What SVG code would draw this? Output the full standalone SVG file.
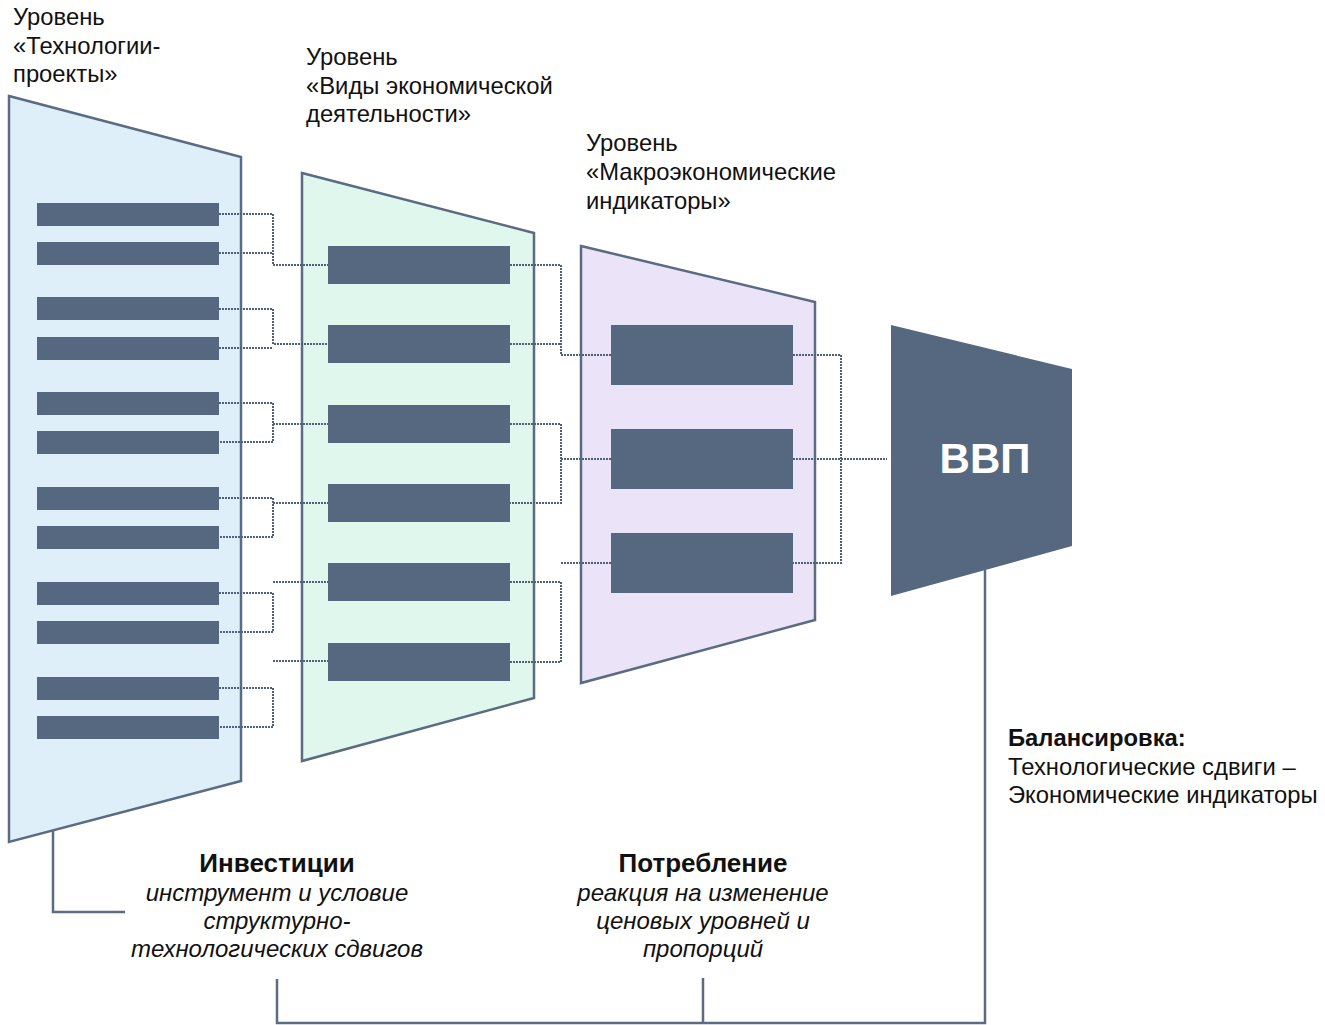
<svg xmlns="http://www.w3.org/2000/svg" width="1325" height="1025" viewBox="0 0 1325 1025">
<style>
.trap{stroke:#5b6b82;stroke-width:2.5;stroke-linejoin:miter}
.bar{fill:#56687f}
.dot{fill:none;stroke:#4f6178;stroke-width:2;stroke-dasharray:2 1}
.solid{fill:none;stroke:#5b6b82;stroke-width:2.5}
.lbl{font-family:"Liberation Sans",Arial,sans-serif;font-size:23.8px;fill:#111}
.hd{font-family:"Liberation Sans",Arial,sans-serif;font-size:26px;font-weight:bold;fill:#111}
.it{font-family:"Liberation Sans",Arial,sans-serif;font-size:24px;font-style:italic;fill:#111}
</style>
<rect width="1325" height="1025" fill="#fff"/>
<g id="level1">
<polygon class="trap" points="9,96 241,157 241,781 9,842" fill="#dfeffa"/>
<rect class="bar" x="37" y="203" width="182" height="23"/>
<rect class="bar" x="37" y="242" width="182" height="23"/>
<rect class="bar" x="37" y="297" width="182" height="23"/>
<rect class="bar" x="37" y="337" width="182" height="23"/>
<rect class="bar" x="37" y="392" width="182" height="23"/>
<rect class="bar" x="37" y="431" width="182" height="23"/>
<rect class="bar" x="37" y="487" width="182" height="23"/>
<rect class="bar" x="37" y="526" width="182" height="23"/>
<rect class="bar" x="37" y="582" width="182" height="23"/>
<rect class="bar" x="37" y="621" width="182" height="23"/>
<rect class="bar" x="37" y="677" width="182" height="23"/>
<rect class="bar" x="37" y="716" width="182" height="23"/>
<text class="lbl" x="13" y="25">Уровень</text>
<text class="lbl" x="13" y="54">«Технологии-</text>
<text class="lbl" x="13" y="82">проекты»</text>
</g>
<g id="level2">
<polygon class="trap" points="302,173 534,233 534,698 302,761" fill="#e0f7ee"/>
<rect class="bar" x="328" y="246" width="182" height="38"/>
<rect class="bar" x="328" y="325" width="182" height="38"/>
<rect class="bar" x="328" y="405" width="182" height="38"/>
<rect class="bar" x="328" y="484" width="182" height="38"/>
<rect class="bar" x="328" y="563" width="182" height="38"/>
<rect class="bar" x="328" y="643" width="182" height="38"/>
<text class="lbl" x="306" y="65">Уровень</text>
<text class="lbl" x="306" y="94">«Виды экономической</text>
<text class="lbl" x="306" y="122">деятельности»</text>
</g>
<g id="level3">
<polygon class="trap" points="581,246 815,302 815,620 581,683" fill="#ebe3f7"/>
<rect class="bar" x="611" y="325" width="182" height="60"/>
<rect class="bar" x="611" y="429" width="182" height="60"/>
<rect class="bar" x="611" y="533" width="182" height="60"/>
<text class="lbl" x="586" y="151">Уровень</text>
<text class="lbl" x="586" y="180">«Макроэкономические</text>
<text class="lbl" x="586" y="209">индикаторы»</text>
</g>
<g id="gdp">
<polygon points="891,325 1072,369 1072,546 891,596" fill="#56687f"/>
<text x="985" y="473" text-anchor="middle" font-family="Liberation Sans,Arial,sans-serif" font-size="42" font-weight="bold" fill="#fff">ВВП</text>
</g>
<g id="connectors">
<path class="dot" d="M219,214H273V265H328M219,253H273"/>
<path class="dot" d="M219,309H273V344H328M219,348H273"/>
<path class="dot" d="M219,403H273V442H219M273,424H328"/>
<path class="dot" d="M219,498H273V537H219M273,503H328"/>
<path class="dot" d="M219,593H273V632H219M273,582H328"/>
<path class="dot" d="M219,688H273V727H219M273,661H328"/>
<path class="dot" d="M510,265H561V355H611M510,344H561"/>
<path class="dot" d="M510,424H561V503H510M561,459H611"/>
<path class="dot" d="M510,582H561V662H510M561,563H611"/>
<path class="dot" d="M793,355H841V563H793M793,459H887"/>
<path class="solid" d="M53,830V912H125"/>
<path class="solid" d="M985,570V1023H277V979"/>
<path class="solid" d="M703,978V1023"/>
</g>
<g id="notes">
<text class="hd" x="277" y="872" text-anchor="middle">Инвестиции</text>
<text class="it" x="277" y="901" text-anchor="middle">инструмент и условие</text>
<text class="it" x="277" y="929" text-anchor="middle">структурно-</text>
<text class="it" x="277" y="957" text-anchor="middle">технологических сдвигов</text>
<text class="hd" x="703" y="872" text-anchor="middle">Потребление</text>
<text class="it" x="703" y="901" text-anchor="middle">реакция на изменение</text>
<text class="it" x="703" y="929" text-anchor="middle">ценовых уровней и</text>
<text class="it" x="703" y="957" text-anchor="middle">пропорций</text>
<text class="lbl" x="1008" y="746" font-weight="bold">Балансировка:</text>
<text class="lbl" x="1008" y="775">Технологические сдвиги –</text>
<text class="lbl" x="1008" y="803">Экономические индикаторы</text>
</g>
</svg>
